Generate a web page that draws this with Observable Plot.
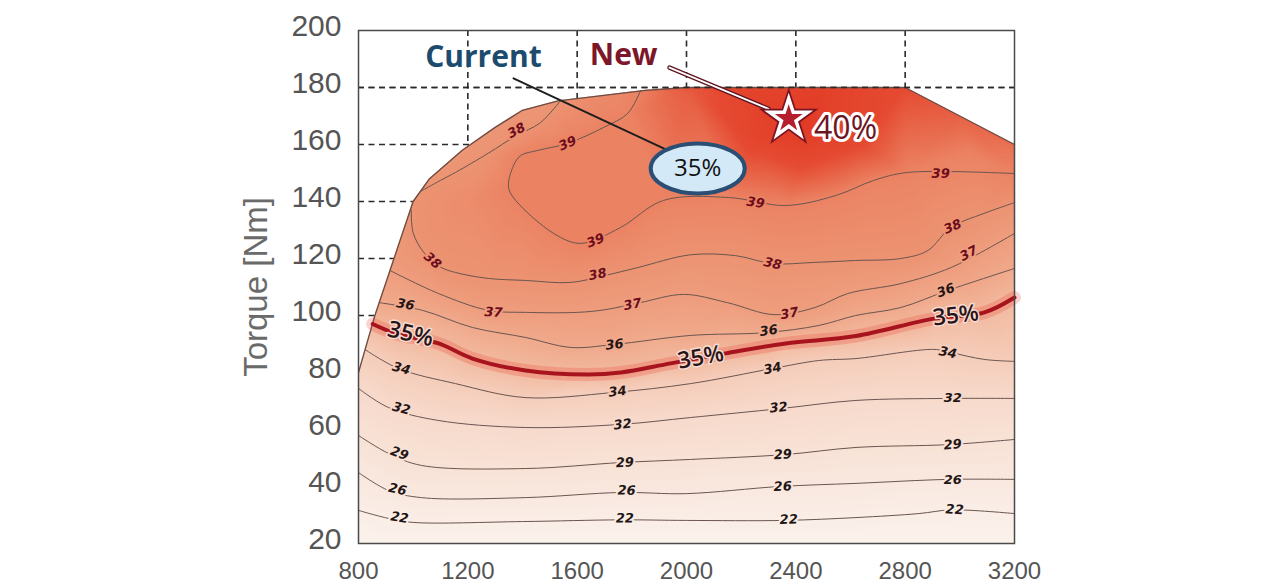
<!DOCTYPE html>
<html>
<head>
<meta charset="utf-8">
<script src="https://cdn.jsdelivr.net/npm/d3@7"></script>
<script src="https://cdn.jsdelivr.net/npm/@observablehq/plot@0.6"></script>
<style>
  html, body { margin: 0; padding: 0; background: #fff; }
  #chart { width: 1280px; height: 588px; overflow: hidden; }
</style>
</head>
<body>
<div id="chart"></div>
<script>
// ---------- data ----------
const xTicks = [800, 1200, 1600, 2000, 2400, 2800, 3200];
const yTicks = [20, 40, 60, 80, 100, 120, 140, 160, 180, 200];

// maximum-torque envelope (rpm, Nm)
const envelope = [[800,80],[860,100],[930,120],[1000,140],[1060,148],[1180,158],[1300,166],[1400,172],[1530,175.3],[1850,179],[2000,180],[2800,180],[3200,160]];

// iso-efficiency lines (rpm, Nm)
const c22 = [[800,31.6],[910,28.8],[1000,27.4],[1400,27.7],[1760,28.3],[2000,28.1],[2360,28.1],[2620,29.1],[2850,30.5],[2970,31.8],[3200,30.5]];
const c26 = [[800,44.9],[910,38.6],[1030,36.1],[1410,36.1],[1760,37.9],[2000,37.5],[2340,40],[2620,41.1],[2960,42.5],[3200,42.5]];
const c29 = [[800,57.9],[910,51.6],[1030,47.4],[1410,46.3],[1760,48.4],[2015,49.5],[2360,51.2],[2620,53.7],[2960,54.7],[3200,56.5]];
const c32 = [[800,74.4],[910,67.7],[1090,63.2],[1410,60.7],[1760,61.8],[2015,64.2],[2350,67.4],[2620,70.2],[2960,70.9],[3200,70.9]];
const c34 = [[825,88],[946,81.4],[1155,76.1],[1410,71.2],[1733,73],[2015,76.1],[2315,81.4],[2484,84.2],[2620,84.9],[2905,88.1],[2967,87],[3088,84.6],[3200,83.9]];
const c35 = [[852,97],[935,93.7],[1093,90.2],[1217,84.9],[1411,80.7],[1638,79.3],[1760,80],[1942,83.2],[2143,86.7],[2363,90.2],[2620,92.8],[2905,98.9],[3088,101],[3200,106.3]];
const c36 = [[876,104.5],[1034,101.8],[1217,95.8],[1411,92.3],[1576,88.8],[1733,89.8],[2015,93],[2290,94],[2484,96.5],[2619,100],[2784,102.8],[2956,108.8],[3200,116.5]];
const c37 = [[915,115.8],[1093,107.7],[1276,101.8],[1411,101.1],[1600,101.1],[1700,102],[1830,104.5],[1990,107.4],[2150,104.5],[2320,100.3],[2470,102.8],[2590,107.7],[2784,111.2],[2967,116.8],[3200,128.8]];
const c38a = [[993,137],[1000,129],[1040,122],[1100,117],[1155,115.1],[1276,113],[1411,112.3],[1576,111.6],[1700,114],[1821,116.8],[2015,121.3],[2180,121],[2315,118.2],[2462,118.6],[2619,119.3],[2784,120],[2883,122.8],[2967,130.9],[3088,135.8],[3200,139.6]];
const c38b = [[1026,143.5],[1100,147.4],[1155,150.2],[1276,157],[1375,163],[1466,167.7],[1540,175.5]];
const c39 = [[1832,178.9],[1785,170.9],[1697,166],[1565,160.4],[1455,157.9],[1393,156.1],[1364,151.9],[1349,144.9],[1375,140.4],[1514,128.8],[1613,125.3],[1759,130.9],[1916,140.4],[2154,141.4],[2363,138.6],[2546,142.1],[2685,147.4],[2809,150.2],[3200,149.8]];

const levels = [22, 26, 29, 32, 34, 36, 37, 38, 38, 39];
const lines  = [c22, c26, c29, c32, c34, c36, c37, c38a, c38b, c39];

// efficiency estimated from the shading along the envelope, at the peak and at the floor (rpm, Nm, %)
const rim   = [[800,80,33],[1060,148,37.7],[1180,158,37.6],[1300,166,37.7],[1400,172,37.8],[1700,177.5,38.6],[2000,180,39.7],[2200,180,40.3],[2500,180,40.5],[2800,180,40],[3000,170,39.6],[3200,160,39.3],[1200,140,38.4]];
const peak  = [[2420,166,40.8],[2250,162,40.3],[2600,162,40.3],[2420,152,40]];
const floor = [[800,20,20],[1400,20,20],[2000,20,20],[2600,20,20],[3200,20,20]];

// contour label anchors (level, rpm, Nm)
const contourLabels = [[22,950,29.1],[22,1774,28.8],[22,2374,28.4],[22,2981,31.9],
  [26,943,39],[26,1781,38.6],[26,2352,40],[26,2974,42.5],
  [29,950,51.6],[29,1774,48.4],[29,2352,51.2],[29,2974,54.7],
  [32,957,67.4],[32,1766,61.8],[32,2337,67.7],[32,2974,71.2],
  [34,957,81.4],[34,1748,73.3],[34,2315,81.4],[34,2956,87],
  [36,972,103.9],[36,1737,89.8],[36,2301,94.7],[36,2949,108.8],
  [37,1294,101.1],[37,1803,103.9],[37,2377,100.7],[37,3033,121.8],
  [38,1071,119.3],[38,1675,114.4],[38,2315,118.2],[38,2974,131.2],[38,1378,164.9],
  [39,1565,160.4],[39,1667,126.3],[39,2253,139.6],[39,2930,149.8]];
const pctLabels = [[990,93.5],[2052,85.3],[2985,100]];

// annotations (rpm, Nm)
const currentNote = [{text: "Current", x: 1257, y: 190.5}];
const newNote = [{text: "New", x: 1770, y: 191.2}];
const currentLeader = [[1367,183.2],[1930,158]];
const newLeader = [[1938,187],[2300,172.5]];
const bubble = [{text: "35%", x: 2041, y: 151.6}];
const star = [{x: 2374, y: 169.1}];
const peakNote = [{text: "40%", x: 2582, y: 165.6}];
const yTitle = ["Torque [Nm]"];

// ---------- layout ----------
const W = 1280, H = 588, ML = 358, MR = 266, MT = 30, MB = 45;
const kx = (W - ML - MR) / (xTicks[xTicks.length-1] - xTicks[0]);
const ky = (H - MT - MB) / (yTicks[yTicks.length-1] - yTicks[0]);

function angleOn(pls, x, y) {
  let best = Infinity, ang = 0;
  for (const pts of pls) for (let i = 0; i < pts.length - 1; i++) {
    const [x1,y1] = pts[i], [x2,y2] = pts[i+1];
    const ax = (x1-x)*kx, ay = (y1-y)*ky, bx = (x2-x)*kx, by = (y2-y)*ky;
    const dx = bx-ax, dy = by-ay, L = dx*dx+dy*dy;
    let t = L ? -(ax*dx+ay*dy)/L : 0; t = Math.max(0, Math.min(1, t));
    const px = ax+t*dx, py = ay+t*dy, d = px*px+py*py;
    if (d < best) { best = d; ang = Math.atan2(-dy, dx) * 180 / Math.PI; }
  }
  if (ang > 90) ang -= 180; if (ang < -90) ang += 180;
  return ang;
}

const lineRows = lines.flatMap((pts, id) => pts.map(([x,y]) => ({id, v: levels[id], x, y})));
const samples = [
  ...lineRows,
  ...c35.map(([x,y]) => ({x, y, v: 35})),
  ...rim.map(([x,y,v]) => ({x, y, v})),
  ...peak.map(([x,y,v]) => ({x, y, v})),
  ...floor.map(([x,y,v]) => ({x, y, v}))
];
const labelRows = contourLabels.map(([v,x,y]) => ({v, x, y, t: String(v),
  rot: angleOn(lines.filter((_, i) => levels[i] === v), x, y)}));
const pctRows = pctLabels.map(([x,y]) => ({x, y, t: "35%", rot: angleOn([c35], x, y)}));

const ellipse = {
  draw(ctx, size) {
    const r = Math.sqrt(size / Math.PI), rx = r * 1.88, ry = r, k = 0.5523;
    ctx.moveTo(rx, 0);
    ctx.bezierCurveTo(rx, ry*k, rx*k, ry, 0, ry);
    ctx.bezierCurveTo(-rx*k, ry, -rx, ry*k, -rx, 0);
    ctx.bezierCurveTo(-rx, -ry*k, -rx*k, -ry, 0, -ry);
    ctx.bezierCurveTo(rx*k, -ry, rx, -ry*k, rx, 0);
    ctx.closePath();
  }
};

const gridStyle = {stroke: "#2a2a2a", strokeWidth: 1.6, strokeDasharray: "6,4.5"};
const X = d => d[0], Y = d => d[1];

const chart = Plot.plot({
  width: W, height: H,
  marginLeft: ML, marginRight: MR, marginTop: MT, marginBottom: MB,
  style: {background: "white", fontFamily: "Liberation Sans, Arial, sans-serif"},
  x: {domain: [xTicks[0], xTicks[xTicks.length-1]]},
  y: {domain: [yTicks[0], yTicks[yTicks.length-1]]},
  color: {
    type: "linear",
    domain: [20, 22, 26, 29, 32, 34, 35, 36, 37, 38, 39, 40, 41],
    range: ["#fbf2ec","#faeee7","#f9e8df","#f8e2d6","#f7dacc","#f5cdba","#f2baa0","#f0a98b","#ee9d7d","#ec9372","#eb8363","#e54b32","#e13621"]
  },
  marks: [
    Plot.ruleX(xTicks.slice(1, -1), gridStyle),
    Plot.ruleY(yTicks.slice(1, -1), gridStyle),
    Plot.raster(samples, {x: "x", y: "y", fill: "v", interpolate: "barycentric", blur: 2}),
    Plot.line(envelope, {x: X, y: Y, stroke: "#6b4d45", strokeWidth: 1.3}),
    Plot.ruleY(yTicks.slice(-2, -1), gridStyle),
    Plot.line(lineRows, {x: "x", y: "y", z: "id", curve: "catmull-rom", stroke: "#6a5550", strokeWidth: 1}),
    Plot.line(c35, {x: X, y: Y, curve: "catmull-rom", stroke: "#e8322a", strokeOpacity: 0.22, strokeWidth: 13}),
    Plot.line(c35, {x: X, y: Y, curve: "catmull-rom", stroke: "#a8141e", strokeWidth: 4}),
    Plot.text(labelRows, {filter: d => d.v < 37, x: "x", y: "y", text: "t", rotate: "rot",
      fill: "#231515", stroke: "v", strokeWidth: 4, paintOrder: "stroke",
      fontSize: 13, fontWeight: "bold", fontStyle: "italic", fontFamily: "DejaVu Sans"}),
    Plot.text(labelRows, {filter: d => d.v >= 37, x: "x", y: "y", text: "t", rotate: "rot",
      fill: "#6b0c1c", stroke: "v", strokeWidth: 4, paintOrder: "stroke",
      fontSize: 13, fontWeight: "bold", fontStyle: "italic", fontFamily: "DejaVu Sans"}),
    Plot.text(pctRows, {x: "x", y: "y", text: "t", rotate: "rot", fill: "#2b1416",
      stroke: "#f6dcd2", strokeWidth: 3, paintOrder: "stroke", fontSize: 23, fontWeight: 600, fontFamily: "Open Sans"}),
    Plot.line(currentLeader, {x: X, y: Y, stroke: "#1e1e1e", strokeWidth: 2}),
    Plot.line(newLeader, {x: X, y: Y, stroke: "#5e1420", strokeWidth: 4.5}),
    Plot.line(newLeader, {x: X, y: Y, stroke: "#ffffff", strokeWidth: 2}),
    Plot.dot(bubble, {x: "x", y: "y", r: 25, symbol: ellipse, fill: "#d3e9f7", stroke: "#2b4f74", strokeWidth: 4}),
    Plot.text(bubble, {x: "x", y: "y", text: "text", fill: "#111", fontSize: 24, fontFamily: "Open Sans"}),
    Plot.dot(star, {x: "x", y: "y", r: 12, symbol: "star", fill: "none", stroke: "#7a1423", strokeWidth: 7}),
    Plot.dot(star, {x: "x", y: "y", r: 12, symbol: "star", fill: "#b51e2d", stroke: "#ffffff", strokeWidth: 3.5}),
    Plot.text(peakNote, {x: "x", y: "y", text: "text", fill: "#6e1524", stroke: "#ffffff", strokeWidth: 6,
      paintOrder: "stroke", fontSize: 32, fontFamily: "Open Sans"}),
    Plot.text(currentNote, {x: "x", y: "y", text: "text", fill: "#1d4b6e", fontSize: 30, fontWeight: "bold",
      fontFamily: "Open Sans", letterSpacing: "1.5px"}),
    Plot.text(newNote, {x: "x", y: "y", text: "text", fill: "#7c1628", fontSize: 30, fontWeight: "bold",
      fontFamily: "Open Sans", letterSpacing: "1.5px"}),
    Plot.axisX(xTicks, {tickSize: 0, tickPadding: 18, fontSize: 24, color: "#555", tickFormat: d => String(d),
      fontFamily: "Liberation Sans Narrow, Liberation Sans, Arial", label: null}),
    Plot.axisY(yTicks, {tickSize: 0, tickPadding: 17, fontSize: 30, color: "#555", dy: -4,
      tickFormat: d => String(d), fontFamily: "Liberation Sans, Arial", label: null}),
    Plot.text(yTitle, {frameAnchor: "left", textAnchor: "middle", dx: -102, rotate: -90, fontSize: 33,
      fill: "#6a6a6a", fontFamily: "Liberation Sans, Arial"}),
    Plot.frame({stroke: "#4a4a4a", strokeWidth: 1.5})
  ]
});

// clip the efficiency shading to the torque envelope
const sx = chart.scale("x"), sy = chart.scale("y");
const clipPts = [[xTicks[0], yTicks[0]], [xTicks[0], envelope[0][1]], ...envelope, [xTicks[xTicks.length-1], yTicks[0]]];
const dPath = "M" + clipPts.map(([a,b]) => `${sx.apply(a)},${sy.apply(b)}`).join("L") + "Z";
const ns = "http://www.w3.org/2000/svg";
const defs = document.createElementNS(ns, "defs");
const cp = document.createElementNS(ns, "clipPath");
cp.setAttribute("id", "envClip");
const cpPath = document.createElementNS(ns, "path");
cpPath.setAttribute("d", dPath);
cp.appendChild(cpPath); defs.appendChild(cp);
chart.insertBefore(defs, chart.firstChild);
const rasterG = chart.querySelector('g[aria-label="raster"]') || chart.querySelector("image").parentNode;
const wrap = document.createElementNS(ns, "g");
wrap.setAttribute("clip-path", "url(#envClip)");
rasterG.parentNode.insertBefore(wrap, rasterG);
wrap.appendChild(rasterG);

document.getElementById("chart").appendChild(chart);
</script>
</body>
</html>
